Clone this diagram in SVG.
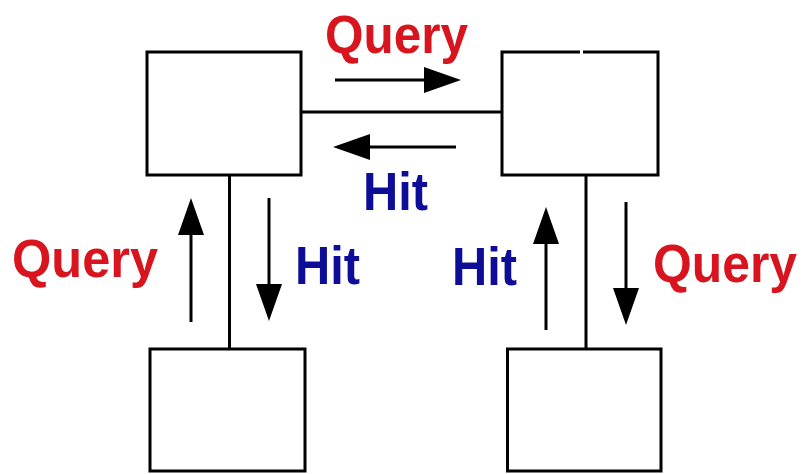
<svg xmlns="http://www.w3.org/2000/svg" width="805" height="474" viewBox="0 0 805 474">
  <style>
    .box { fill: #ffffff; stroke: #000000; stroke-width: 3; }
    .link { fill: none; stroke: #000000; stroke-width: 3; }
    .arrow { fill: none; stroke: #000000; stroke-width: 3; }
    .lbl { font-family: "Liberation Sans", Arial, sans-serif; font-weight: bold; font-size: 53px; }
    .q { fill: #d8141e; }
    .h { fill: #0d0d98; }
  </style>
  <defs>
    <marker id="head" markerUnits="userSpaceOnUse" markerWidth="38" markerHeight="26" refX="0" refY="13" orient="auto" viewBox="0 0 38 26">
      <path d="M0,0 L37,13 L0,26 z" fill="#000000"/>
    </marker>
  </defs>
  <rect width="805" height="474" fill="#ffffff"/>

  <g id="connectors">
    <line class="link" x1="301" y1="112" x2="502" y2="112"/>
    <line class="link" x1="229.5" y1="175" x2="229.5" y2="349"/>
    <line class="link" x1="586" y1="175" x2="586" y2="349"/>
    <line class="arrow" x1="335" y1="80" x2="424" y2="80" marker-end="url(#head)"/>
    <line class="arrow" x1="456" y1="147" x2="370" y2="147" marker-end="url(#head)"/>
    <line class="arrow" x1="191" y1="322" x2="191" y2="235" marker-end="url(#head)"/>
    <line class="arrow" x1="269" y1="198" x2="269" y2="284" marker-end="url(#head)"/>
    <line class="arrow" x1="546" y1="330" x2="546" y2="244" marker-end="url(#head)"/>
    <line class="arrow" x1="626" y1="202" x2="626" y2="288" marker-end="url(#head)"/>
  </g>

  <g id="node-top-left">
    <rect class="box" x="147" y="52" width="154" height="123"/>
  </g>
  <g id="node-top-right">
    <rect class="box" x="502" y="52" width="156" height="123"/>
    <line x1="580" y1="52" x2="583" y2="52" stroke="#ffffff" stroke-width="4"/>
  </g>
  <g id="node-bottom-left">
    <rect class="box" x="150" y="349" width="155" height="122"/>
  </g>
  <g id="node-bottom-right">
    <rect class="box" x="507.5" y="349" width="153.5" height="122"/>
  </g>

  <g id="labels">
    <text class="lbl q" x="325" y="53" textLength="143" lengthAdjust="spacingAndGlyphs">Query</text>
    <text class="lbl h" x="363" y="210" textLength="65" lengthAdjust="spacingAndGlyphs">Hit</text>
    <text class="lbl q" x="12" y="277" textLength="146" lengthAdjust="spacingAndGlyphs">Query</text>
    <text class="lbl h" x="295" y="284" textLength="65" lengthAdjust="spacingAndGlyphs">Hit</text>
    <text class="lbl h" x="452" y="285" textLength="65" lengthAdjust="spacingAndGlyphs">Hit</text>
    <text class="lbl q" x="653" y="282" textLength="144" lengthAdjust="spacingAndGlyphs">Query</text>
  </g>
</svg>
